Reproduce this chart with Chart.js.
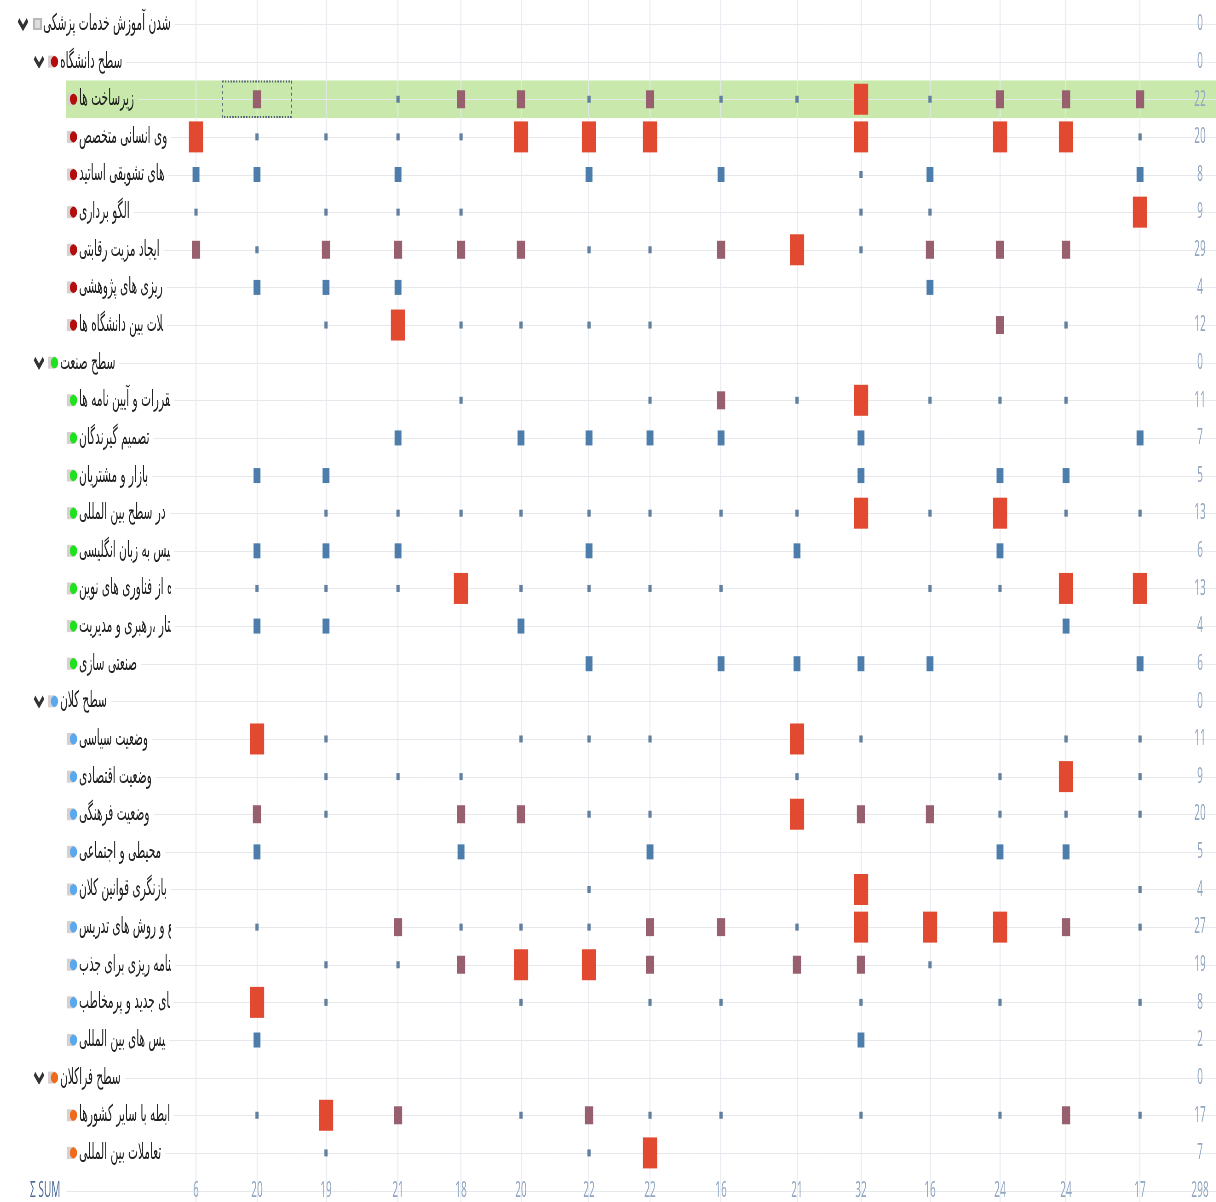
<!DOCTYPE html>
<html>
<head>
<meta charset="utf-8">
<script src="https://cdn.jsdelivr.net/npm/chart.js@4.4.1/dist/chart.umd.min.js"></script>
<style>
  html, body { margin: 0; padding: 0; background: #fff; overflow: hidden; }
  #wrap { position: absolute; left: 0; top: 0; transform-origin: 0 0; }
</style>
</head>
<body>
<div id="wrap"><canvas id="matrix"></canvas></div>
<script>
// visible part of each code name, as shown in the tree column
const codeLabels = [
  'شدن آموزش خدمات پزشکی',
  'سطح دانشگاه',
  'زیرساخت ها',
  'وی انسانی متخصص',
  'های تشویقی اساتید',
  'الگو برداری',
  'ایجاد مزیت رقابتی',
  'ریزی های پژوهشی',
  '\u200Dلات بین دانشگاه ها',
  'سطح صنعت',
  '\u200Dقررات و آیین نامه ها',
  'تصمیم گیرندگان',
  'بازار و مشتریان',
  'در سطح بین المللی',
  '\u200Dیس به زبان انگلیسی',
  'ه از فناوری های نوین',
  '\u200Dتار ،رهبری و مدیریت',
  'صنعتی سازی',
  'سطح کلان',
  'وضعیت سیاسی',
  'وضعیت اقتصادی',
  'وضعیت فرهنگی',
  'محیطی و اجتماعی',
  'بازنگری قوانین کلان',
  '\u200Dع و روش های تدریس',
  '\u200Dنامه ریزی برای جذب',
  '\u200Dای جدید و پرمخاطب',
  '\u200Dیس های بین المللی',
  'سطح فراکلان',
  'ابطه با سایر کشورها',
  'تعاملات بین المللی'
];
const codeLevels = [0, 1, 2, 2, 2, 2, 2, 2, 2, 1, 2, 2, 2, 2, 2, 2, 2, 2, 1, 2, 2, 2, 2, 2, 2, 2, 2, 2, 1, 2, 2];
const codeGroups = ['root', 'uni', 'uni', 'uni', 'uni', 'uni', 'uni', 'uni', 'uni',
  'ind', 'ind', 'ind', 'ind', 'ind', 'ind', 'ind', 'ind', 'ind',
  'mac', 'mac', 'mac', 'mac', 'mac', 'mac', 'mac', 'mac', 'mac', 'mac',
  'meta', 'meta', 'meta'];

const rowTotals = [0, 0, 22, 20, 8, 9, 29, 4, 12, 0, 11, 7, 5, 13, 6, 13, 4, 6, 0, 11, 9, 20, 5, 4, 27, 19, 8, 2, 0, 17, 7];
const colTotals = [6, 20, 19, 21, 18, 20, 22, 22, 16, 21, 32, 16, 24, 24, 17];
const grandTotal = 298;

// symbol class for each cell, one string per code, one char per document column
// . = empty, s = small, b = blue, m = mauve, r = red
const cells = [
  '...............',
  '...............',
  '.m.smmsmssrsmmm',
  'rssssrrr..r.rrs',
  'bb.b..b.b.sb..b',
  's.sss.....ss..r',
  'msmmmmssmrsmmm.',
  '.bbb.......b...',
  '..srssss....ms.',
  '...............',
  '....s..smsrsss.',
  '...b.bbbb.b...b',
  '.bb.......b.bb.',
  '..ssssssssrsrss',
  '.bbb..b..b..b..',
  '.sssrssss..ssrr',
  '.bb..b.......b.',
  '......b.bbbb..b',
  '...............',
  '.rs..sss.rs..ss',
  '..sss....s..srs',
  '.ms.mmss.rmmsss',
  '.b..b..b....bb.',
  '......s...r...s',
  '.s.msssmmsrrrms',
  '..ssmrrm.mms...',
  '.rs..s.ss.s.s.s',
  '.b........b....',
  '...............',
  '.srm.smss.s.sms',
  '..s...sr.......'
];

// ---- layout (reference pixels) ----
const SX = 0.46;                 // the picture is squeezed horizontally
const REF_W = 1216, REF_H = 1202;
const W = Math.round(REF_W / SX);
// document columns are not equally wide; last entry is the totals column
const COL_X = [196, 257, 326, 398, 461, 521, 589, 650, 721, 797, 861, 930, 1000, 1066, 1140, 1200];
const TOTAL_COL = COL_X.length - 1;
const ROW0 = 24, ROWSTEP = 37.63;
const SUM_ROW = codeLabels.length;
const HIGHLIGHT_ROW = 2, SEL_COL = 1;
const rx = v => v / SX;

const LABEL_FONT = '23px "DejaVu Sans"';
const NUM_FONT = '22px "Open Sans"';
const TEXT_X = [43, 60, 79];
const CLIP_X = 171;

const symbolStyles = {
  s: { color: '#62809e', side: 7 },
  b: { color: '#4d7eab', side: 15 },
  m: { color: '#98606f', side: 18 },
  r: { color: '#e14a31', side: 31 }
};
const groupColors = { root: '#bdbdbd', uni: '#b30d0d', ind: '#1ee21e', mac: '#5aa9ee', meta: '#f06a1c' };

// linear scale that places column i at COL_X[i]
class ColumnScale extends Chart.LinearScale {
  static id = 'columns';
  static defaults = {};
  getPixelForValue(v) {
    const n = COL_X.length;
    const i = Math.max(0, Math.min(n - 2, Math.floor(v)));
    return rx(COL_X[i] + (v - i) * (COL_X[i + 1] - COL_X[i]));
  }
}
Chart.register(ColumnScale);

const wrap = document.getElementById('wrap');
wrap.style.width = W + 'px';
wrap.style.height = REF_H + 'px';
wrap.style.transform = 'scaleX(' + SX + ')';
const canvas = document.getElementById('matrix');
canvas.width = W; canvas.height = REF_H;
canvas.style.width = W + 'px'; canvas.style.height = REF_H + 'px';

const datasets = Object.keys(symbolStyles).map(k => {
  const data = [];
  cells.forEach((row, r) => {
    for (let c = 0; c < row.length; c++) if (row[c] === k) data.push({ x: c, y: r });
  });
  return {
    data,
    pointStyle: 'rect',
    pointRadius: symbolStyles[k].side / Math.SQRT2,
    backgroundColor: symbolStyles[k].color,
    borderWidth: 0,
    showLine: false
  };
});

function labelEnd(ctx, r) {
  if (r === SUM_ROW) return rx(66);
  ctx.font = LABEL_FONT;
  const w = ctx.measureText(codeLabels[r]).width;
  return Math.min(rx(TEXT_X[codeLevels[r]]) + w, rx(CLIP_X)) + rx(4);
}

function chevron(ctx, cx, y) {
  ctx.beginPath();
  ctx.moveTo(rx(cx - 4.5), y - 4);
  ctx.lineTo(rx(cx), y + 4);
  ctx.lineTo(rx(cx + 4.5), y - 4);
  ctx.lineWidth = 5;
  ctx.strokeStyle = '#333';
  ctx.stroke();
}

function codeIcon(ctx, level, group, y) {
  if (level === 0) {
    ctx.fillStyle = '#b8b8b8';
    ctx.fillRect(rx(33), y - 6, rx(9), 12);
    ctx.fillStyle = '#dedede';
    ctx.fillRect(rx(35), y - 4, rx(5), 8);
    return;
  }
  const bx = level === 1 ? 48 : 67;
  ctx.fillStyle = '#d8cfcf';
  ctx.fillRect(rx(bx), y - 6, rx(7), 12);
  ctx.beginPath();
  ctx.ellipse(rx(bx + 6.5), y, rx(3.6), 5.6, 0, 0, Math.PI * 2);
  ctx.fillStyle = groupColors[group];
  ctx.fill();
}

const matrixDecor = {
  id: 'matrixDecor',
  beforeDraw(chart) {
    const { ctx } = chart;
    const ys = chart.scales.y;
    ctx.save();
    ctx.fillStyle = '#fff';
    ctx.fillRect(0, 0, chart.width, chart.height);
    const hy = ys.getPixelForValue(HIGHLIGHT_ROW);
    ctx.fillStyle = '#c8e9ab';
    ctx.fillRect(rx(66), hy - ROWSTEP / 2, chart.width, ROWSTEP);
    ctx.strokeStyle = '#e6e8ec';
    ctx.lineWidth = 1;
    for (let r = 0; r <= SUM_ROW; r++) {
      const y = Math.round(ys.getPixelForValue(r)) + 0.5;
      ctx.beginPath();
      ctx.moveTo(labelEnd(ctx, r), y);
      ctx.lineTo(chart.width, y);
      ctx.stroke();
    }
    ctx.restore();
  },
  afterDraw(chart) {
    const { ctx } = chart;
    const xs = chart.scales.x, ys = chart.scales.y;
    ctx.save();

    // selected cell
    const hy = ys.getPixelForValue(HIGHLIGHT_ROW);
    ctx.setLineDash([3, 3]);
    ctx.strokeStyle = '#556078';
    ctx.lineWidth = 2;
    const x1 = xs.getPixelForValue(SEL_COL - 0.57), x2 = xs.getPixelForValue(SEL_COL + 0.5);
    ctx.strokeRect(x1, hy - ROWSTEP / 2 + 1, x2 - x1, ROWSTEP - 2);
    ctx.setLineDash([]);

    // code tree
    codeLabels.forEach((label, r) => {
      const y = ys.getPixelForValue(r);
      const lvl = codeLevels[r];
      if (lvl === 0) chevron(ctx, 23, y);
      if (lvl === 1) chevron(ctx, 39, y);
      codeIcon(ctx, lvl, codeGroups[r], y);
      ctx.save();
      ctx.beginPath();
      ctx.rect(0, 0, rx(CLIP_X), chart.height);
      ctx.clip();
      ctx.font = LABEL_FONT;
      ctx.direction = 'rtl';
      ctx.textAlign = 'left';
      ctx.textBaseline = 'middle';
      ctx.fillStyle = '#222';
      ctx.fillText(label, rx(TEXT_X[lvl]), y);
      ctx.restore();
    });

    // totals
    ctx.font = NUM_FONT;
    ctx.textAlign = 'center';
    ctx.textBaseline = 'middle';
    ctx.fillStyle = '#91a6c1';
    const tx = xs.getPixelForValue(TOTAL_COL);
    rowTotals.forEach((v, r) => ctx.fillText(String(v), tx, ys.getPixelForValue(r)));
    const sy = ys.getPixelForValue(SUM_ROW);
    colTotals.forEach((v, c) => ctx.fillText(String(v), xs.getPixelForValue(c), sy));
    ctx.fillText(String(grandTotal), tx, sy);
    ctx.fillStyle = '#4b6c96';
    ctx.textAlign = 'left';
    ctx.fillText('Σ SUM', rx(30), sy);
    ctx.restore();
  }
};

new Chart(canvas, {
  type: 'scatter',
  data: { datasets },
  options: {
    responsive: false,
    animation: false,
    events: [],
    layout: { padding: 0, autoPadding: false },
    plugins: { legend: { display: false }, tooltip: { enabled: false } },
    scales: {
      x: {
        type: 'columns',
        min: 0,
        max: TOTAL_COL,
        border: { display: false },
        ticks: { display: false },
        grid: { color: '#e4e9f0', lineWidth: 2, drawTicks: false },
        afterBuildTicks: s => { s.ticks = colTotals.map((_, i) => ({ value: i })); },
        afterFit: s => { s.height = 0; }
      },
      y: {
        type: 'linear',
        reverse: true,
        display: false,
        min: -ROW0 / ROWSTEP,
        max: (REF_H - ROW0) / ROWSTEP
      }
    }
  },
  plugins: [matrixDecor]
});
</script>
</body>
</html>
